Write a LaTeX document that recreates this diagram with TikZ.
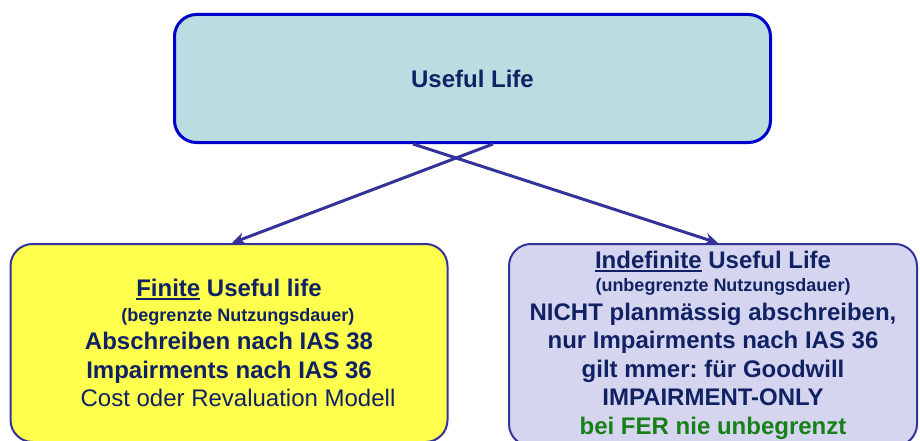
\documentclass[tikz,border=0pt]{standalone}
\usepackage{fontspec}
\setmainfont{Liberation Sans}
\usetikzlibrary{arrows.meta}
\frenchspacing
\definecolor{navy}{RGB}{16,34,100}
\definecolor{boxblue}{RGB}{0,0,204}
\definecolor{linkblue}{RGB}{51,51,153}
\definecolor{topfill}{RGB}{185,221,225}
\definecolor{finfill}{RGB}{255,255,77}
\definecolor{indfill}{RGB}{213,213,240}
\definecolor{fergreen}{RGB}{24,128,24}
\newcommand{\ulword}[1]{\setbox0\hbox{#1}\rlap{\rule[-3.5pt]{\wd0}{1.8pt}}\box0\relax}

\begin{document}
\begin{tikzpicture}[x=1pt, y=1pt,
  lifebox/.style={rounded corners=22pt, align=center, text=navy, inner sep=0pt,
    font=\bfseries\fontsize{24}{28.5}\selectfont},
  link/.style={linkblue, line width=3pt, -{Stealth[length=13pt, width=12pt]}}]
  \clip (0,0) rectangle (920,-441);

  \node[lifebox, draw=boxblue, line width=3pt, fill=topfill,
    minimum width=596, minimum height=128] (useful) at (472.5,-78.5) {Useful Life};

  \node[lifebox, draw=linkblue, line width=2pt, fill=finfill,
    minimum width=437, minimum height=198] (finite) at (229,-343)
    {\ulword{Finite} Useful life\\[-4pt]
     \hspace*{18pt}{\fontsize{18}{20}\selectfont (begrenzte Nutzungsdauer)}\\
     Abschreiben nach IAS 38\\
     Impairments nach IAS 36\\
     \hspace*{18pt}{\mdseries Cost oder Revaluation Modell}};

  \node[lifebox, draw=linkblue, line width=2pt, fill=indfill,
    minimum width=408, minimum height=202] (indef) at (713,-345)
    {\ulword{Indefinite} Useful Life\\[-5pt]
     \hspace*{20pt}{\fontsize{18}{20}\selectfont (unbegrenzte Nutzungsdauer)}\\
     NICHT planmässig abschreiben,\\
     nur Impairments nach IAS 36\\
     gilt mmer: für Goodwill\\
     IMPAIRMENT-ONLY\\
     \textcolor{fergreen}{bei FER nie unbegrenzt}};

  \draw[link] ([xshift=20.5pt]useful.south) -- ([xshift=3pt]finite.north);
  \draw[link] ([xshift=-59.5pt]useful.south) -- ([xshift=5pt]indef.north);
\end{tikzpicture}
\end{document}
